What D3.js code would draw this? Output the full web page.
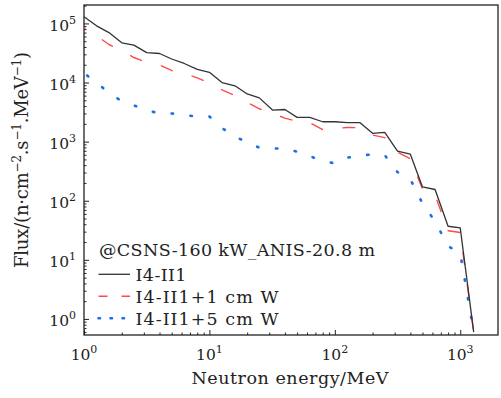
<!DOCTYPE html>
<html>
<head>
<meta charset="utf-8">
<script src="https://cdn.jsdelivr.net/npm/d3@7"></script>
<style>
  body { margin: 0; background: #fff; }
  svg { display: block; }
  text { font-family: "DejaVu Serif", serif; fill: #222; }
</style>
</head>
<body>
<svg id="chart" width="501" height="398"></svg>
<script>
// neutron energy grid (MeV)
const energy = [1, 1.26, 1.58, 2, 2.5, 3.16, 4, 5, 6.3, 8, 10, 12.6, 16, 20, 25, 32, 40, 50, 63, 80,
  100, 126, 158, 200, 250, 316, 400, 500, 630, 800, 1000, 1280]

// flux values
const fluxBare = [1.3e5, 9.1e4, 7.0e4, 4.7e4, 4.3e4, 3.2e4, 3.1e4, 2.5e4, 2.1e4, 1.67e4, 1.49e4, 1.0e4,
  8.8e3, 6.4e3, 5.5e3, 3.4e3, 3.5e3, 2.57e3, 2.57e3, 2.17e3, 2.17e3, 2.1e3, 2.1e3, 1.38e3, 1.43e3,
  690, 614, 171, 155, 37, 34.6, 0.6]
const fluxW1 = [8.5e4, 6.2e4, 4.4e4, 3.45e4, 2.65e4, 2.2e4, 1.98e4, 1.6e4, 1.42e4, 1.2e4, 9.8e3, 7.5e3,
  6.0e3, 4.6e3, 3.6e3, 3.0e3, 2.5e3, 2.2e3, 2.1e3, 1.6e3, 1.67e3, 1.73e3, 1.72e3, 1.29e3, 1.17e3,
  663, 513, 157, 124, 31, 29, 0.6]
const fluxW5 = [1.45e4, 9.8e3, 6.8e3, 4.8e3, 4.1e3, 3.4e3, 3.0e3, 3.0e3, 2.8e3, 2.67e3, 2.67e3, 1.7e3,
  1.22e3, 970, 790, 767, 760, 677, 568, 476, 427, 535, 590, 603, 590,
  304, 231, 90, 45, 17, 12.9, 0.6]

const seriesNames = ['I4-II1', 'I4-II1+1 cm W', 'I4-II1+5 cm W']
const legendTitle = '@CSNS-160 kW_ANIS-20.8 m'
const xMajor = [1, 10, 100, 1000]
const yMajor = [1, 10, 100, 1000, 10000, 100000]
const xLabel = 'Neutron energy/MeV'

const W = 501, H = 398
const margin = {top: 5, right: 3, bottom: 63, left: 84}
const svg = d3.select('#chart')

const x = d3.scaleLog().domain([1, 2000]).range([margin.left, W - margin.right])
const y = d3.scaleLog().domain([0.535, 2.05e5]).range([H - margin.bottom, margin.top])

function minorsOf (majors, domain) {
  let out = []
  majors.concat([majors[majors.length - 1] * 10, majors[0] / 10]).forEach(d => {
    for (let k = 2; k < 10; k++) {
      let v = d * k
      if (v > domain[0] && v < domain[1]) out.push(v)
    }
  })
  return out
}

// ticks (pointing inward)
const bottom = H - margin.bottom
svg.append('g')
    .attr('transform', `translate(0, ${bottom})`)
    .call(d3.axisBottom(x).tickValues(minorsOf(xMajor, x.domain())).tickSize(-2.5).tickFormat(''))
    .call(g => g.select('.domain').remove())
svg.append('g')
    .attr('transform', `translate(0, ${bottom})`)
    .call(d3.axisBottom(x).tickValues(xMajor).tickSize(-5).tickFormat(''))
    .call(g => g.select('.domain').remove())
svg.append('g')
    .attr('transform', `translate(${margin.left}, 0)`)
    .call(d3.axisLeft(y).tickValues(minorsOf(yMajor, y.domain())).tickSize(-2.5).tickFormat(''))
    .call(g => g.select('.domain').remove())
svg.append('g')
    .attr('transform', `translate(${margin.left}, 0)`)
    .call(d3.axisLeft(y).tickValues(yMajor).tickSize(-5).tickFormat(''))
    .call(g => g.select('.domain').remove())
svg.selectAll('.tick line').attr('stroke', '#222').attr('stroke-width', 1)

// tick labels like 10^n
function powerLabel (sel) {
  sel.text('10')
  sel.append('tspan')
      .attr('dy', -7)
      .attr('font-size', 11)
      .text(d => Math.round(Math.log10(d)))
}
svg.append('g').selectAll('text')
  .data(xMajor).join('text')
    .attr('x', d => x(d))
    .attr('y', 360)
    .attr('text-anchor', 'middle')
    .attr('font-size', 15.5)
    .attr('font-weight', 300)
    .call(powerLabel)
svg.append('g').selectAll('text')
  .data(yMajor).join('text')
    .attr('x', 76)
    .attr('y', d => y(d) + 7.5)
    .attr('text-anchor', 'end')
    .attr('font-size', 15.5)
    .call(powerLabel)

// frame
svg.append('rect')
    .attr('x', margin.left).attr('y', margin.top)
    .attr('width', W - margin.left - margin.right)
    .attr('height', H - margin.top - margin.bottom)
    .attr('fill', 'none').attr('stroke', '#222').attr('stroke-width', 1.3)

// axis titles
svg.append('text')
    .attr('x', 290).attr('y', 384)
    .attr('text-anchor', 'middle')
    .attr('font-size', 17.5)
    .attr('textLength', 197).attr('lengthAdjust', 'spacing')
    .text(xLabel)

const yl = svg.append('text')
    .attr('transform', 'translate(27.5, 160) rotate(-90)')
    .attr('text-anchor', 'middle')
    .attr('font-size', 18)
    .attr('textLength', 216).attr('lengthAdjust', 'spacing')
yl.append('tspan').text('Flux/(n·cm')
yl.append('tspan').attr('dy', -7).attr('font-size', 12).text('−2')
yl.append('tspan').attr('dy', 7).text('.s')
yl.append('tspan').attr('dy', -7).attr('font-size', 12).text('−1')
yl.append('tspan').attr('dy', 7).text('.MeV')
yl.append('tspan').attr('dy', -7).attr('font-size', 12).text('−1')
yl.append('tspan').attr('dy', 7).text(')')

// curves
const series = [
  {name: seriesNames[0], values: fluxBare, color: '#333333', width: 1.3, dash: null, cap: 'butt', offset: 0,
    legendDash: null},
  {name: seriesNames[1], values: fluxW1, color: '#ff4a4a', width: 1.4, dash: '13,19.5', cap: 'butt', offset: 11,
    legendDash: '9,14'},
  {name: seriesNames[2], values: fluxW5, color: '#1a6fe6', width: 2.6, dash: '1.5,17.5', cap: 'round', offset: 15,
    legendDash: '1.5,10.5'}
]

const line = d3.line()
    .x(d => x(d.e))
    .y(d => y(d.f))

const plot = svg.append('g')
series.slice().reverse().forEach(s => {
  plot.append('path')
      .attr('d', line(energy.map((e, i) => ({e: e, f: s.values[i]}))))
      .attr('fill', 'none')
      .attr('stroke', s.color)
      .attr('stroke-width', s.width)
      .attr('stroke-linecap', s.cap)
      .attr('stroke-linejoin', 'round')
      .attr('stroke-dasharray', s.dash)
      .attr('stroke-dashoffset', s.offset)
})

// legend
const lg = svg.append('g')
lg.append('text')
    .attr('x', 99).attr('y', 255.5)
    .attr('font-size', 17.5)
    .attr('textLength', 276).attr('lengthAdjust', 'spacing')
    .text(legendTitle)
const entryLen = [51, 143, 143]
series.forEach((s, i) => {
  let cy = 274.3 + i * 22
  lg.append('line')
      .attr('x1', 98.5).attr('x2', 130).attr('y1', cy).attr('y2', cy)
      .attr('stroke', s.color)
      .attr('stroke-width', s.width)
      .attr('stroke-linecap', s.cap)
      .attr('stroke-dasharray', s.legendDash)
  lg.append('text')
      .attr('x', 135.5).attr('y', cy + 6.3)
      .attr('font-size', 17.5)
      .attr('textLength', entryLen[i]).attr('lengthAdjust', 'spacing')
      .text(s.name)
})
</script>
</body>
</html>
